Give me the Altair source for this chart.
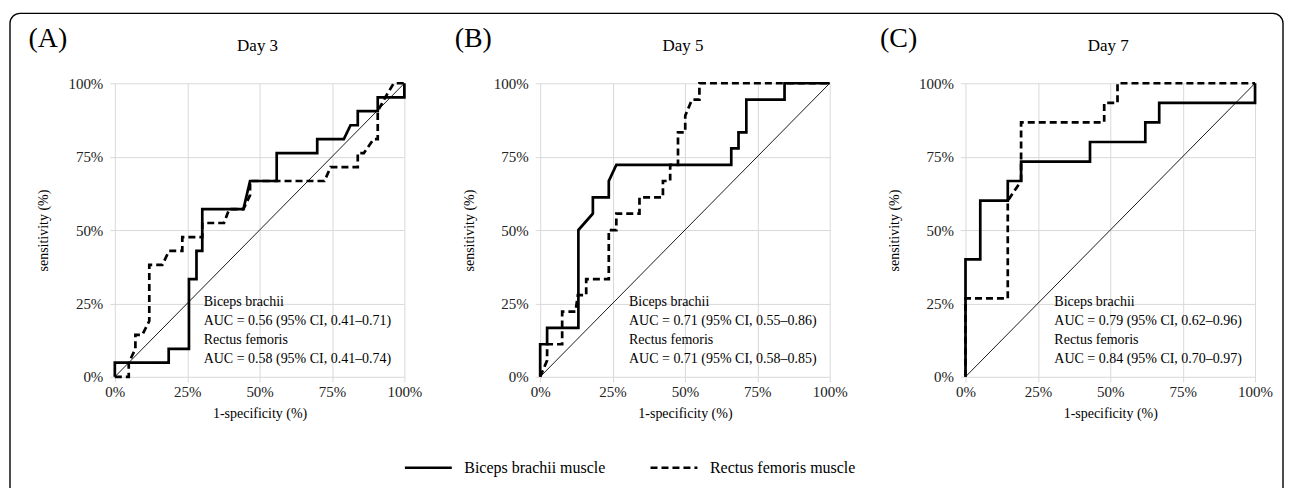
import altair as alt
import pandas as pd

FONT = "'Liberation Serif', 'Times New Roman', Times, 'DejaVu Serif', serif"

panel_letters = ["(A)", "(B)", "(C)"]
panel_titles = ["Day 3", "Day 5", "Day 7"]
series_names = ["Biceps brachii muscle", "Rectus femoris muscle"]
axis_ticks = [0, 25, 50, 75, 100]

# Day 3
d3_bb_x = [0, 0, 18.6, 18.6, 25.6, 25.6, 28.2, 28.2, 30.2, 30.2, 44.4, 46.7, 55.9, 55.9, 69.9, 69.9, 79.1, 81.4, 83.9, 83.9, 90.8, 90.8, 100, 100]
d3_bb_y = [0, 4.8, 4.8, 9.5, 9.5, 33.3, 33.3, 42.9, 42.9, 57.1, 57.1, 66.7, 66.7, 76.2, 76.2, 81.0, 81.0, 85.7, 85.7, 90.5, 90.5, 95.2, 95.2, 100]
d3_rf_x = [0, 4.8, 4.8, 7.1, 7.1, 9.5, 11.9, 11.9, 16.4, 18.7, 23.3, 23.3, 30.2, 30.2, 37.7, 39.5, 44.4, 46.7, 46.7, 72.4, 74.5, 83.9, 83.9, 86.0, 89.4, 90.8, 90.8, 93.4, 96.3, 100]
d3_rf_y = [0, 0, 4.8, 9.5, 14.3, 14.3, 19.0, 38.1, 38.1, 42.9, 42.9, 47.6, 47.6, 52.4, 52.4, 57.1, 57.1, 61.9, 66.7, 66.7, 71.4, 71.4, 76.2, 76.2, 81.0, 81.0, 90.5, 95.2, 100, 100]
# Day 5
d5_bb_x = [0, 0, 2.4, 2.4, 13.2, 13.2, 18.2, 18.2, 23.7, 23.7, 26.3, 66.0, 66.0, 68.5, 68.5, 71.2, 71.2, 84.4, 84.4, 100]
d5_bb_y = [0, 11.1, 11.1, 16.7, 16.7, 50.0, 55.6, 61.1, 61.1, 66.7, 72.2, 72.2, 77.8, 77.8, 83.3, 83.3, 94.4, 94.4, 100, 100]
d5_rf_x = [0, 2.4, 2.4, 7.6, 7.6, 12.2, 13.0, 15.9, 15.9, 23.7, 23.7, 26.3, 26.3, 34.3, 34.3, 42.4, 42.4, 44.9, 44.9, 47.6, 47.6, 50.1, 50.1, 52.4, 55.0, 55.0, 100]
d5_rf_y = [0, 5.6, 11.1, 11.1, 22.2, 22.2, 27.8, 27.8, 33.3, 33.3, 50.0, 50.0, 55.6, 55.6, 61.1, 61.1, 66.7, 66.7, 72.2, 72.2, 83.3, 83.3, 88.9, 94.4, 94.4, 100, 100]
# Day 7
d7_bb_x = [0, 0, 5.1, 5.1, 14.6, 14.6, 19.2, 19.2, 43.0, 43.0, 62.1, 62.1, 66.9, 66.9, 100, 100]
d7_bb_y = [0, 40.0, 40.0, 60.0, 60.0, 66.7, 66.7, 73.3, 73.3, 80.0, 80.0, 86.7, 86.7, 93.3, 93.3, 100]
d7_rf_x = [0, 0, 14.6, 14.6, 19.2, 19.2, 47.9, 47.9, 52.5, 52.5, 100]
d7_rf_y = [0, 26.7, 26.7, 60.0, 66.7, 86.7, 86.7, 93.3, 93.3, 100, 100]

annot_A = ["Biceps brachii", "AUC = 0.56 (95% CI, 0.41\u20130.71)", "Rectus femoris", "AUC = 0.58 (95% CI, 0.41\u20130.74)"]
annot_B = ["Biceps brachii", "AUC = 0.71 (95% CI, 0.55\u20130.86)", "Rectus femoris", "AUC = 0.71 (95% CI, 0.58\u20130.85)"]
annot_C = ["Biceps brachii", "AUC = 0.79 (95% CI, 0.62\u20130.96)", "Rectus femoris", "AUC = 0.84 (95% CI, 0.70\u20130.97)"]

diag_vals = [0, 100]

W, H = 290, 294


def panel(idx, bx, by, rx, ry, annot, with_frame=False):
    rows = []
    for k, (a, b) in enumerate(zip(bx, by)):
        rows.append({"x": a, "y": b, "series": series_names[0], "o": k})
    for k, (a, b) in enumerate(zip(rx, ry)):
        rows.append({"x": a, "y": b, "series": series_names[1], "o": k})
    df = pd.DataFrame(rows)

    xs = alt.Scale(domain=[0, 100], nice=False, zero=False)
    ys = alt.Scale(domain=[0, 100], nice=False, zero=False)
    x_axis = alt.Axis(values=axis_ticks, labelExpr="datum.value + '%'", title="1-specificity (%)", labelFlush=False)
    y_axis = alt.Axis(values=axis_ticks, labelExpr="datum.value + '%'", title="sensitivity (%)", labelFlush=False)

    diag = alt.Chart(pd.DataFrame({"x": diag_vals, "y": diag_vals})).mark_line(
        color="black", strokeWidth=0.9
    ).encode(x=alt.X("x:Q", scale=xs, axis=x_axis), y=alt.Y("y:Q", scale=ys, axis=y_axis))

    lines = alt.Chart(df).mark_line(color="black", strokeWidth=2.7).encode(
        x=alt.X("x:Q", scale=xs, axis=x_axis),
        y=alt.Y("y:Q", scale=ys, axis=y_axis),
        strokeDash=alt.StrokeDash(
            "series:N",
            scale=alt.Scale(domain=series_names, range=[[1, 0], [7, 4]]),
            legend=alt.Legend(
                orient="none", legendX=289, legendY=360, direction="horizontal", title=None,
                symbolType="stroke", symbolSize=2209, symbolStrokeWidth=2.5, symbolStrokeColor="black",
                labelFont=FONT, labelFontSize=16, labelColor="black", labelOffset=11, columnPadding=39,
            ),
        ),
        order="o:Q",
    )

    tdf = pd.DataFrame({"t": ["\n".join(annot)]})
    text = alt.Chart(tdf).mark_text(
        align="left", baseline="top", lineBreak="\n", lineHeight=19, fontSize=14, font=FONT, color="black"
    ).encode(x=alt.value(89), y=alt.value(212), text="t:N")

    letter = alt.Chart(pd.DataFrame({"t": [panel_letters[idx]]})).mark_text(
        align="center", baseline="middle", fontSize=28, font=FONT, color="black"
    ).encode(x=alt.value(-67), y=alt.value(-44), text="t:N")

    title = alt.Chart(pd.DataFrame({"t": [panel_titles[idx]]})).mark_text(
        align="center", baseline="middle", fontSize=17, font=FONT, color="black"
    ).encode(x=alt.value(143), y=alt.value(-37), text="t:N")

    layers = [diag, lines, text, letter, title]
    if with_frame:
        frame = alt.Chart(pd.DataFrame({"f": [0]})).mark_rect(
            filled=False, stroke="black", strokeWidth=1.4, cornerRadius=10
        ).encode(x=alt.value(-105), x2=alt.value(1170), y=alt.value(-70), y2=alt.value(415))
        layers = [frame] + layers
    return alt.layer(*layers).properties(width=W, height=H)


pA = panel(0, d3_bb_x, d3_bb_y, d3_rf_x, d3_rf_y, annot_A, with_frame=True)
pB = panel(1, d5_bb_x, d5_bb_y, d5_rf_x, d5_rf_y, annot_B)
pC = panel(2, d7_bb_x, d7_bb_y, d7_rf_x, d7_rf_y, annot_C)

chart = alt.hconcat(pA, pB, pC, spacing=136, bounds="flush").resolve_scale(
    strokeDash="shared"
).properties(
    padding={"left": 1, "top": 4, "right": 0, "bottom": 0}
).configure_view(strokeWidth=0).configure_axis(
    grid=True, gridColor="#d9d9d9", gridWidth=1, domain=False,
    tickColor="#d9d9d9", tickSize=5,
    labelFont=FONT, labelFontSize=15, labelColor="#222222",
    titleFont=FONT, titleFontSize=14, titleFontWeight="normal", titleColor="black",
).configure_axisY(labelPadding=7, titlePadding=17).configure_axisX(labelPadding=3, titlePadding=7)

chart.save("out.html", embed_options={"renderer": "svg", "actions": False})
